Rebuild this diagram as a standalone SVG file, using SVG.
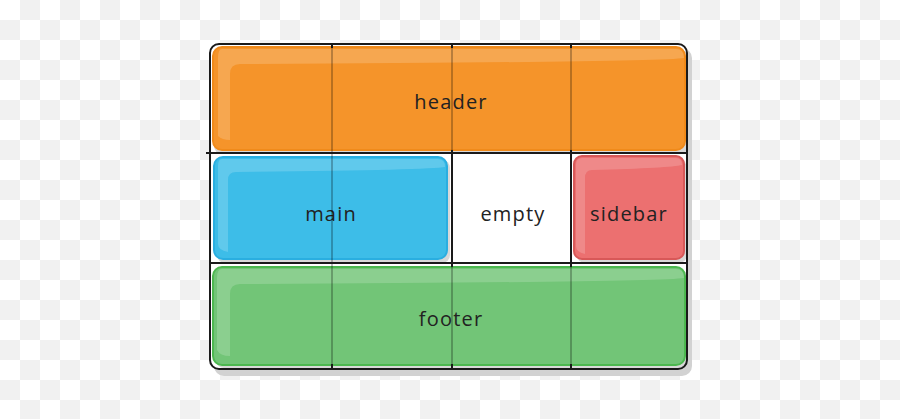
<svg xmlns="http://www.w3.org/2000/svg" width="900" height="419" viewBox="0 0 900 419">
<defs>
<pattern id="chk" width="40" height="40" patternUnits="userSpaceOnUse">
<rect width="40" height="40" fill="#ffffff"/>
<rect x="20" width="20" height="20" fill="#f1f1f1"/>
<rect y="20" width="20" height="20" fill="#f1f1f1"/>
</pattern>
</defs>
<style>
.lbl{font-family:"Open Sans","DejaVu Sans",sans-serif;font-size:20px;letter-spacing:1.2px;fill:#222;text-anchor:middle;dominant-baseline:central}
.grid{stroke:#1a1a1a;stroke-width:2;fill:none}
.gl{stroke:#000;stroke-opacity:0.25;stroke-width:2}
.hl{fill:#fff;fill-opacity:0.18}
</style>
<rect width="900" height="419" fill="url(#chk)"/>
<rect x="214" y="48" width="478" height="328" rx="10" fill="#d2d2d2"/>
<rect x="210" y="44" width="477" height="325" rx="9" fill="#fff"/>
<rect x="214" y="50" width="474" height="104" rx="8" fill="#d8d8d8"/>
<rect x="217" y="160" width="233" height="103" rx="8" fill="#d8d8d8"/>
<rect x="577" y="160" width="110" height="103" rx="8" fill="#d8d8d8"/>
<rect x="216" y="270" width="472" height="98" rx="8" fill="#d8d8d8"/>
<g id="header">
<rect x="213" y="47" width="472" height="103" rx="9" fill="#f5942a" stroke="#f08a1a" stroke-width="2"/>
<path class="hl" d="M222 49 H676 Q684 49 684 58 Q660 62 240 64 Q230 64 230 74 V140 Q222 140 218 136 V58 Q218 49 222 49Z"/>
<text class="lbl" x="451" y="101">header</text>
</g>
<g id="main">
<rect x="214" y="157" width="233" height="102" rx="9" fill="#3dbde8" stroke="#2aaee0" stroke-width="2"/>
<path class="hl" d="M222 159 H438 Q445 159 445 167 Q430 170 236 172 Q228 172 228 180 V252 Q218 250 218 244 V166 Q218 159 222 159Z"/>
<text class="lbl" x="331" y="213">main</text>
</g>
<g id="empty">
<text class="lbl" x="513" y="213">empty</text>
</g>
<g id="sidebar">
<rect x="574" y="156" width="110" height="103" rx="8" fill="#ec7070" stroke="#d85858" stroke-width="2"/>
<path class="hl" d="M582 158 H676 Q682 158 682 165 Q670 168 592 170 Q585 170 585 178 V254 Q576 252 576 246 V165 Q576 158 582 158Z"/>
<text class="lbl" x="629" y="213">sidebar</text>
</g>
<g id="footer">
<rect x="213" y="267" width="472" height="98" rx="9" fill="#72c577" stroke="#4cb84f" stroke-width="2"/>
<path class="hl" d="M222 269 H676 Q684 269 684 278 Q660 282 240 284 Q230 284 230 294 V356 Q220 356 217 350 V278 Q217 269 222 269Z"/>
<text class="lbl" x="451" y="318">footer</text>
</g>
<g id="connectors">
<line class="gl" x1="332" y1="46" x2="332" y2="368"/>
<line class="gl" x1="452" y1="46" x2="452" y2="368"/>
<line class="gl" x1="571" y1="46" x2="571" y2="368"/>
<line class="grid" x1="332" y1="44" x2="332" y2="48"/>
<line class="grid" x1="452" y1="44" x2="452" y2="48"/>
<line class="grid" x1="571" y1="44" x2="571" y2="48"/>
<line class="grid" x1="452" y1="150" x2="452" y2="267"/>
<line class="grid" x1="571" y1="150" x2="571" y2="267"/>
<line class="grid" x1="332" y1="364" x2="332" y2="369"/>
<line class="grid" x1="452" y1="364" x2="452" y2="369"/>
<line class="grid" x1="571" y1="364" x2="571" y2="369"/>
<line class="grid" x1="206" y1="153" x2="687" y2="153"/>
<line class="grid" x1="210" y1="263" x2="687" y2="263"/>
<rect class="grid" x="210" y="44" width="477" height="325" rx="9"/>
</g>
</svg>
